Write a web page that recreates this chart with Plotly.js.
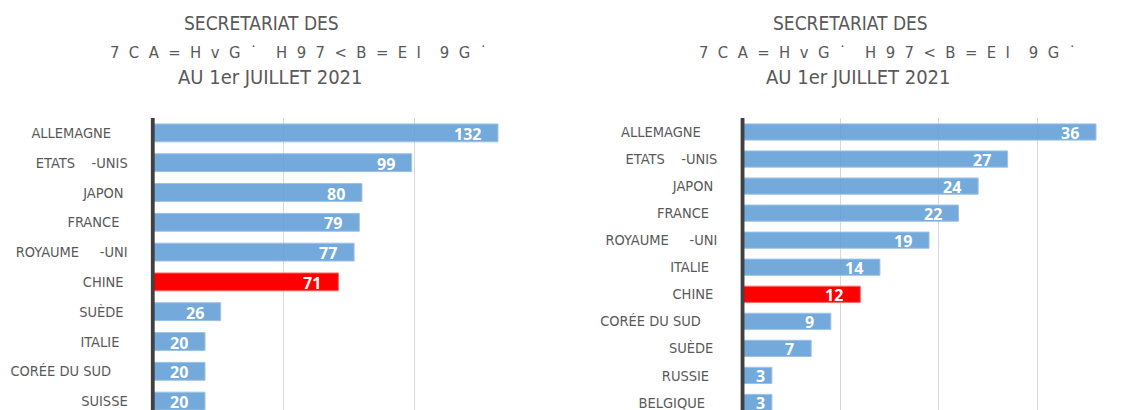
<!DOCTYPE html>
<html>
<head>
<meta charset="utf-8">
<script src="https://cdn.plot.ly/plotly-3.0.1.min.js"></script>
<style>
  html, body { margin: 0; padding: 0; overflow: hidden; background: #ffffff; }
  #chart { width: 1140px; height: 420px; }
</style>
</head>
<body>
<div id="chart"></div>
<script>
// ---------- data ----------
const leftCountries = ['ALLEMAGNE', 'ETATS\u00a0\u00a0\u00a0\u00a0-UNIS', 'JAPON', 'FRANCE', 'ROYAUME\u00a0\u00a0\u00a0\u00a0\u00a0-UNI', 'CHINE', 'SUÈDE', 'ITALIE', 'CORÉE DU SUD', 'SUISSE'];
const leftValues = [132, 99, 80, 79, 77, 71, 26, 20, 20, 20];

const rightCountries = ['ALLEMAGNE', 'ETATS\u00a0\u00a0\u00a0\u00a0-UNIS', 'JAPON', 'FRANCE', 'ROYAUME\u00a0\u00a0\u00a0\u00a0\u00a0-UNI', 'ITALIE', 'CHINE', 'CORÉE DU SUD', 'SUÈDE', 'RUSSIE', 'BELGIQUE'];
const rightValues = [36, 27, 24, 22, 19, 14, 12, 9, 7, 3, 3];

const highlight = 'CHINE';

const titleLine1 = 'SECRETARIAT DES';
const titleLine2 = '7 C A = H v G ˙  H 9 7 < B = E I  9 G ˙';
const titleLine3 = 'AU 1er JUILLET 2021';

// ---------- styling ----------
const W = 1140, H = 420, T = 118, B = 4;
const px2x = p => p / W;
const px2y = p => (H - B - p) / (H - T - B);

const blue = 'rgba(91,155,213,0.85)';
const blueEdge = 'rgba(157,195,230,1)';
const red = '#FF0000';
const redEdge = '#FF6B6B';
const grey = '#595959';
const narrow = 'DejaVu Sans Condensed, Liberation Sans Narrow, Arial Narrow, sans-serif';

const labelPad = {'ALLEMAGNE': 4, 'JAPON': 1, 'FRANCE': 2, 'CHINE': 1, 'SUÈDE': 1, 'ITALIE': 2, 'CORÉE DU SUD': 4, 'RUSSIE': 2, 'BELGIQUE': 3};
const padLabel = c => c + '\u00a0'.repeat(labelPad[c] || 0);

function barTrace(cats, vals, xa, ya) {
  return {
    type: 'bar', orientation: 'h',
    x: vals, y: cats, xaxis: xa, yaxis: ya,
    marker: {
      color: cats.map(c => c === highlight ? red : blue),
      line: {color: cats.map(c => c === highlight ? redEdge : blueEdge), width: 1}
    },
    hoverinfo: 'x+y', showlegend: false
  };
}

const data = [
  barTrace(leftCountries, leftValues, 'x', 'y'),
  barTrace(rightCountries, rightValues, 'x2', 'y2')
];

const labelFont = {family: narrow, size: 14.5, color: grey};

function yAxis(cats, anchor) {
  return {
    anchor: anchor, domain: [0, 1], type: 'category',
    autorange: 'reversed',
    tickvals: cats, ticktext: cats.map(padLabel),
    ticks: 'outside', ticklen: 19, tickcolor: 'rgba(0,0,0,0)',
    tickfont: labelFont, showgrid: false, zeroline: false, showline: false
  };
}
function xAxis(range, dtick, domain, anchor) {
  return {
    anchor: anchor, domain: domain, range: range, dtick: dtick, tick0: 0,
    showticklabels: false, ticks: '', showgrid: true, gridcolor: '#d9d9d9', gridwidth: 1,
    zeroline: false, showline: false, fixedrange: true
  };
}

const leftRange = [-0.8, 150.05], leftDom = [150.6, 545.2];
const rightRange = [-0.22, 40], rightDom = [740.3, 1135.3];

const annotations = [];
// titles
const titleFont1 = {family: narrow, size: 19, color: grey};
const titleFont3 = {family: narrow, size: 20, color: grey};
const titleFont2 = {family: narrow, size: 16.5, color: grey};
const line2 = titleLine2.replace(/ /g, '\u00a0\u00a0');
[[261.5, 298.4, 269.5], [850, 887, 858]].forEach(cx => {
  annotations.push({xref: 'paper', yref: 'paper', x: px2x(cx[0]), y: px2y(22.5), text: titleLine1, showarrow: false, xanchor: 'center', yanchor: 'middle', font: titleFont1});
  annotations.push({xref: 'paper', yref: 'paper', x: px2x(cx[1]), y: px2y(52.5), text: line2, showarrow: false, xanchor: 'center', yanchor: 'middle', font: titleFont2});
  annotations.push({xref: 'paper', yref: 'paper', x: px2x(cx[2]), y: px2y(77.5), text: titleLine3, showarrow: false, xanchor: 'center', yanchor: 'middle', font: titleFont3});
});
// value labels
const valFont = {family: 'Open Sans, sans-serif', size: 16, color: '#ffffff', weight: 700};
function addValueLabels(cats, vals, xa, ya, range, dom) {
  const pxPerUnit = (dom[1] - dom[0]) / (range[1] - range[0]);
  cats.forEach((c, i) => {
    const barPx = vals[i] * pxPerUnit;
    annotations.push({xref: xa, yref: ya, x: vals[i], y: c, text: String(vals[i]), showarrow: false,
      xanchor: 'right', yanchor: 'middle', xshift: barPx < 40 ? -5 : -15, yshift: -1, font: valFont});
  });
}
addValueLabels(leftCountries, leftValues, 'x', 'y', leftRange, leftDom);
addValueLabels(rightCountries, rightValues, 'x2', 'y2', rightRange, rightDom);

const layout = {
  width: W, height: H,
  margin: {l: 0, r: 0, t: T, b: B, pad: 0},
  paper_bgcolor: '#ffffff', plot_bgcolor: 'rgba(0,0,0,0)',
  bargap: 0.4,
  xaxis: xAxis(leftRange, 50, leftDom.map(px2x), 'y'),
  yaxis: yAxis(leftCountries, 'x'),
  xaxis2: xAxis(rightRange, 10, rightDom.map(px2x), 'y2'),
  yaxis2: yAxis(rightCountries, 'x2'),
  shapes: [
    {type: 'line', xref: 'x', yref: 'y domain', x0: 0, x1: 0, y0: 0, y1: 1, line: {color: '#404040', width: 4}, layer: 'above'},
    {type: 'line', xref: 'x2', yref: 'y2 domain', x0: 0, x1: 0, y0: 0, y1: 1, line: {color: '#404040', width: 4}, layer: 'above'}
  ],
  annotations: annotations,
  showlegend: false
};

Plotly.newPlot('chart', data, layout, {displayModeBar: false, staticPlot: true});
</script>
</body>
</html>
